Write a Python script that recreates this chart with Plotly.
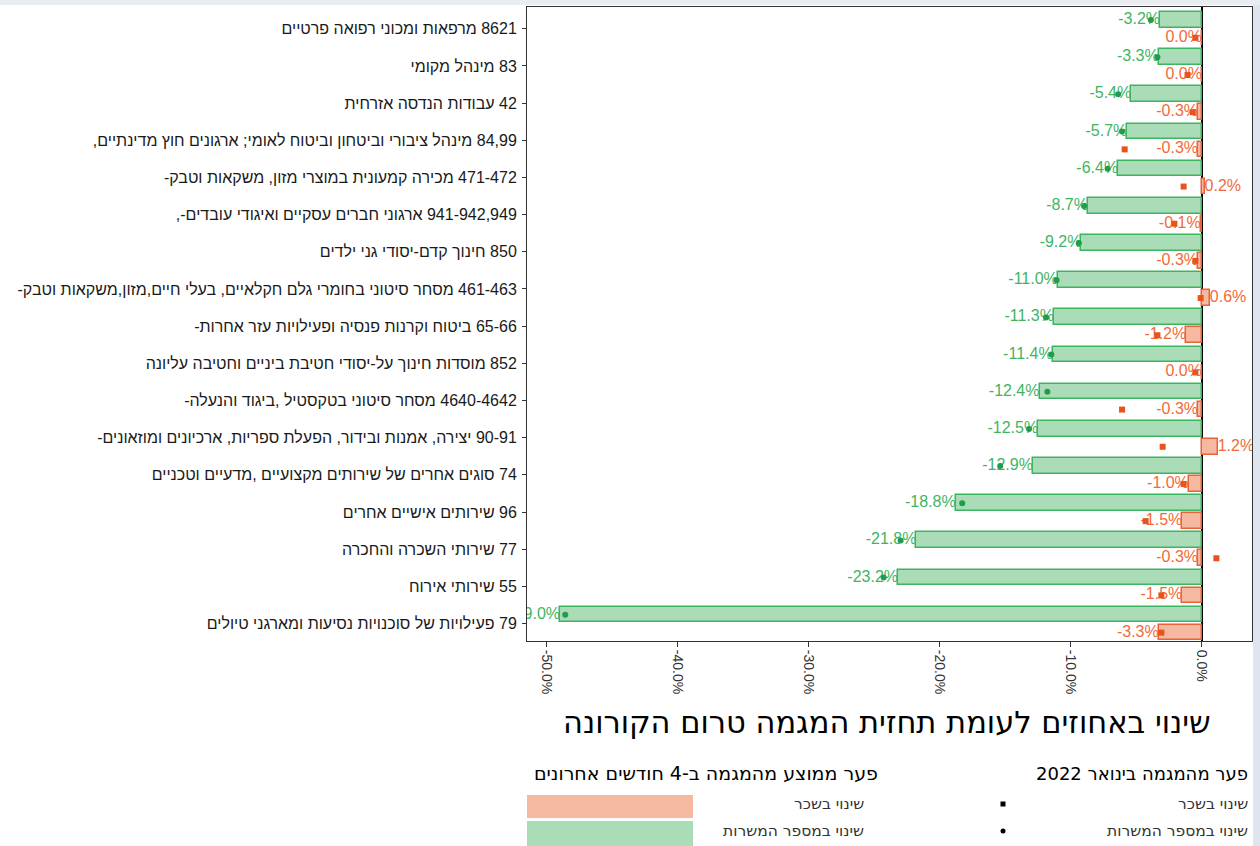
import plotly.graph_objects as go

# ---------------- data ----------------
categories = [
    "8621 מרפאות ומכוני רפואה פרטיים",
    "83 מינהל מקומי",
    "42 עבודות הנדסה אזרחית",
    "84,99 מינהל ציבורי וביטחון וביטוח לאומי; ארגונים חוץ מדינתיים,",
    "471-472 מכירה קמעונית במוצרי מזון, משקאות וטבק-",
    "941-942,949 ארגוני חברים עסקיים ואיגודי עובדים-,",
    "850 חינוך קדם-יסודי גני ילדים",
    "461-463 מסחר סיטוני בחומרי גלם חקלאיים, בעלי חיים,מזון,משקאות וטבק-",
    "65-66 ביטוח וקרנות פנסיה ופעילויות עזר אחרות-",
    "852 מוסדות חינוך על-יסודי חטיבת ביניים וחטיבה עליונה",
    "4640-4642 מסחר סיטוני בטקסטיל ,ביגוד והנעלה-",
    "90-91 יצירה, אמנות ובידור, הפעלת ספריות, ארכיונים ומוזאונים-",
    "74 סוגים אחרים של שירותים מקצועיים ,מדעיים וטכניים",
    "96 שירותים אישיים אחרים",
    "77 שירותי השכרה והחכרה",
    "55 שירותי אירוח",
    "79 פעילויות של סוכנויות נסיעות ומארגני טיולים",
]
# average gap from trend, last 4 months (bars)
jobs_avg4 = [-3.2, -3.3, -5.4, -5.7, -6.4, -8.7, -9.2, -11.0, -11.3, -11.4,
             -12.4, -12.5, -12.9, -18.8, -21.8, -23.2, -49.0]
wage_avg4 = [0.0, 0.0, -0.3, -0.3, 0.2, -0.1, -0.3, 0.6, -1.2, 0.0,
             -0.3, 1.2, -1.0, -1.5, -0.3, -1.5, -3.3]
# gap from trend in January 2022 (markers)
jobs_jan22 = [-3.9, -3.4, -6.4, -6.1, -7.2, -9.0, -9.4, -11.1, -11.9, -11.5,
              -11.8, -13.2, -15.4, -18.3, -23.0, -24.3, -48.6]
wage_jan22 = [-0.5, -1.1, -0.7, -5.9, -1.4, -2.1, -0.5, -0.1, -3.4, -0.5,
              -6.1, -3.0, -1.4, -4.3, 1.1, -3.1, -3.1]

x_tickvals = [-50, -40, -30, -20, -10, 0]
x_ticktext = ["-50.0%", "-40.0%", "-30.0%", "-20.0%", "-10.0%", "0.0%"]

title_text = "שינוי באחוזים לעומת תחזית המגמה טרום הקורונה"
legend_head_jan = "פער מהמגמה בינואר 2022"
legend_head_avg = "פער ממוצע מהמגמה ב-4 חודשים אחרונים"
legend_wage = "שינוי בשכר"
legend_jobs = "שינוי במספר המשרות"

# ---------------- style ----------------
GREEN_FILL = "#aadcb8"
GREEN_LINE = "#3db45f"
GREEN_TEXT = "#3fb462"
GREEN_DOT = "#1f9c4c"
ORANGE_FILL = "#f5b8a1"
ORANGE_LINE = "#ea6238"
ORANGE_TEXT = "#f26a3a"
ORANGE_SQ = "#e8521c"
FONT = "Liberation Sans, DejaVu Sans, sans-serif"
HFONT = "DejaVu Sans, Liberation Sans, sans-serif"


def rtl(s):
    return "\u202b" + s + "\u202c"


idx = list(range(len(categories)))
y_jobs = [i - 0.235 for i in idx]
y_wage = [i + 0.245 for i in idx]


def pos(v):
    return "middle right" if v > 0 else "middle left"


fig = go.Figure()
fig.add_bar(y=idx, x=jobs_avg4, orientation="h", width=0.42, offset=-0.45,
            marker=dict(color=GREEN_FILL, line=dict(color=GREEN_LINE, width=1.5)),
            showlegend=False)
fig.add_bar(y=idx, x=wage_avg4, orientation="h", width=0.42, offset=0.035,
            marker=dict(color=ORANGE_FILL, line=dict(color=ORANGE_LINE, width=1.5)),
            showlegend=False)
fig.add_scatter(x=jobs_avg4, y=y_jobs, mode="text",
                text=[f"{v:.1f}%" for v in jobs_avg4],
                textposition=[pos(v) for v in jobs_avg4],
                textfont=dict(color=GREEN_TEXT, size=16, family=FONT),
                cliponaxis=True, showlegend=False)
fig.add_scatter(x=wage_avg4, y=y_wage, mode="text",
                text=[f"{v:.1f}%" for v in wage_avg4],
                textposition=[pos(v) for v in wage_avg4],
                textfont=dict(color=ORANGE_TEXT, size=16, family=FONT),
                cliponaxis=True, showlegend=False)
fig.add_scatter(x=jobs_jan22, y=y_jobs, mode="markers",
                marker=dict(symbol="circle", size=6, color=GREEN_DOT),
                showlegend=False)
fig.add_scatter(x=wage_jan22, y=y_wage, mode="markers",
                marker=dict(symbol="square", size=6, color=ORANGE_SQ),
                showlegend=False)

fig.update_layout(
    width=1260, height=846,
    margin=dict(l=527, r=8, t=7, b=205, autoexpand=False),
    paper_bgcolor="white", plot_bgcolor="white",
    font=dict(family=FONT, color="#222"),
    bargap=0,
)
fig.update_xaxes(range=[-51.52, 3.82], tickvals=x_tickvals, ticktext=x_ticktext,
                 tickangle=90, tickfont=dict(size=14, color="#333", family=FONT),
                 showgrid=False, zeroline=True, zerolinecolor="black", zerolinewidth=2,
                 showline=True, mirror=True, linecolor="#333", linewidth=1,
                 ticks="outside", ticklen=5, tickcolor="#333")
fig.update_yaxes(range=[16.47, -0.585], tickvals=idx,
                 ticktext=[rtl(c) for c in categories],
                 tickfont=dict(size=16, color="#1a1a1a", family=FONT),
                 ticklabelstandoff=2,
                 showgrid=False, zeroline=False,
                 showline=True, mirror=True, linecolor="#333", linewidth=1,
                 ticks="outside", ticklen=4, tickcolor="#333")

W, PT, PB, PL = 725.0, 7.0, 641.0, 527.0
H = PB - PT


def px(x):
    return (x - PL) / W


def py(y):
    return (PB - y) / H


ann = [
    dict(text=rtl(title_text), x=px(887), y=py(722),
         font=dict(size=30.5, color="black", family=HFONT)),
    dict(text=rtl(legend_head_jan), x=px(1250), y=py(773), xanchor="right",
         font=dict(size=18, color="black", family=HFONT)),
    dict(text=rtl(legend_head_avg), x=px(880), y=py(773), xanchor="right",
         font=dict(size=19, color="black", family=HFONT)),
    dict(text=rtl(legend_wage), x=px(1250), y=py(804), xanchor="right",
         font=dict(size=15.5, color="#333", family=HFONT)),
    dict(text=rtl(legend_jobs), x=px(1250), y=py(831), xanchor="right",
         font=dict(size=15.5, color="#333", family=HFONT)),
    dict(text=rtl(legend_wage), x=px(866), y=py(804), xanchor="right",
         font=dict(size=15.5, color="#333", family=HFONT)),
    dict(text=rtl(legend_jobs), x=px(866), y=py(831), xanchor="right",
         font=dict(size=15.5, color="#333", family=HFONT)),
]
for a in ann:
    a.update(xref="paper", yref="paper", showarrow=False, yanchor="middle")
    a.setdefault("xanchor", "center")
    fig.add_annotation(**a)

shapes = [
    # legend swatches
    dict(type="rect", x0=px(527), x1=px(693), y0=py(795), y1=py(818),
         fillcolor=ORANGE_FILL, line=dict(width=0)),
    dict(type="rect", x0=px(527), x1=px(693), y0=py(821), y1=py(846),
         fillcolor=GREEN_FILL, line=dict(width=0)),
    # legend symbols
    dict(type="rect", x0=px(1000.5), x1=px(1005.5), y0=py(801.5), y1=py(806.5),
         fillcolor="black", line=dict(width=0)),
    dict(type="circle", x0=px(1000.5), x1=px(1005.5), y0=py(828.5), y1=py(833.5),
         fillcolor="black", line=dict(width=0)),
    # viewer frame strips
    dict(type="rect", x0=px(1253), x1=px(1260), y0=py(846), y1=py(0),
         fillcolor="#dfe5ef", line=dict(width=0)),
    dict(type="rect", x0=px(0), x1=px(1260), y0=py(5), y1=py(0),
         fillcolor="#e9ecf1", line=dict(width=0)),
]
for s in shapes:
    s.update(xref="paper", yref="paper", layer="above")
    fig.add_shape(**s)

fig.write_html("out.html", config={"displayModeBar": False},
               post_script="document.body.style.margin='0px';document.body.style.overflow='hidden';")
